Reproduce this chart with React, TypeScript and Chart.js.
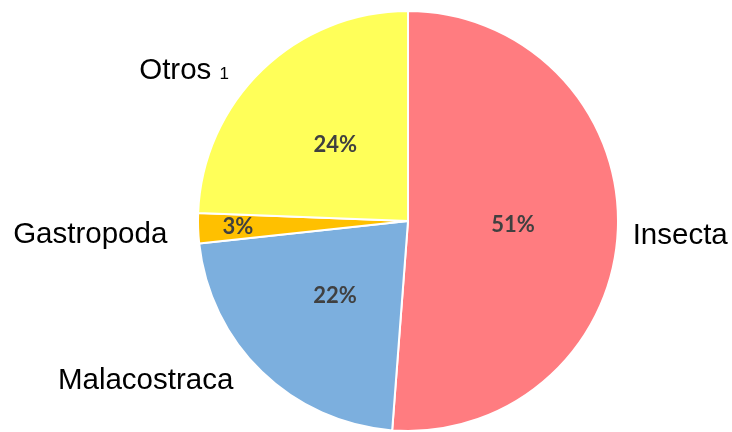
import React, { useEffect, useRef } from "react";
import { Chart, registerables } from "chart.js";

Chart.register(...registerables);

const categories = ["Insecta", "Malacostraca", "Gastropoda", "Otros"];
const labelSuffix = ["", "", "", "1"];
const values = [51.2, 22.1, 2.3, 24.4];
const percentLabels = ["51%", "22%", "3%", "24%"];
const colors = ["#FF7C80", "#7CAFDE", "#FFC000", "#FFFF59"];
// label placement (relative to slices)
const innerFactor = [0.5, 0.5, 0.81, 0.5];
const outerPad = [15, 25, 31, 25];
const outerNudgeDeg = [1, 3.9, -0.8, -5.7];

const labelPlugin = {
  id: "pieLabels",
  afterDatasetsDraw(chart: any) {
    const ctx = chart.ctx;
    const meta = chart.getDatasetMeta(0);
    meta.data.forEach((arc: any, i: number) => {
      const { x, y, startAngle, endAngle, outerRadius } = arc.getProps(
        ["x", "y", "startAngle", "endAngle", "outerRadius"],
        true
      );
      const mid = (startAngle + endAngle) / 2;
      // inner percentage
      const ri = outerRadius * innerFactor[i];
      const px = x + Math.cos(mid) * ri;
      const py = y + Math.sin(mid) * ri;
      ctx.save();
      ctx.fillStyle = "#404040";
      ctx.font = "bold 22px Lato";
      ctx.textAlign = "center";
      ctx.textBaseline = "middle";
      ctx.fillText(percentLabels[i], px, py);
      // outer label
      const a = mid + (outerNudgeDeg[i] * Math.PI) / 180;
      const ro = outerRadius + outerPad[i];
      const ox = x + Math.cos(a) * ro;
      const oy = y + Math.sin(a) * ro;
      ctx.fillStyle = "#000000";
      const bigFont = "29.5px 'Liberation Sans', Arial, sans-serif";
      const smallFont = "17px 'Liberation Sans', Arial, sans-serif";
      const main = labelSuffix[i] ? categories[i] + " " : categories[i];
      ctx.font = bigFont;
      const w1 = ctx.measureText(main).width;
      ctx.font = smallFont;
      const w2 = labelSuffix[i] ? ctx.measureText(labelSuffix[i]).width : 0;
      const totalW = w1 + w2;
      const left = Math.cos(a) < 0 ? ox - totalW : ox;
      ctx.textAlign = "left";
      ctx.font = bigFont;
      ctx.textBaseline = "alphabetic";
      const base = oy + 29.5 * 0.36;
      ctx.fillText(main, left, base);
      if (labelSuffix[i]) {
        ctx.font = smallFont;
        ctx.fillText(labelSuffix[i], left + w1, base);
      }
      ctx.restore();
    });
  },
};

export default function App() {
  const canvasRef = useRef<HTMLCanvasElement | null>(null);
  useEffect(() => {
    if (!canvasRef.current) return;
    const chart = new Chart(canvasRef.current, {
      type: "pie",
      data: {
        labels: categories,
        datasets: [
          {
            data: values,
            backgroundColor: colors,
            borderColor: "#FFFFFF",
            borderWidth: 2,
          },
        ],
      },
      options: {
        responsive: false,
        animation: false,
        layout: { padding: { left: 197, right: 113, top: 10, bottom: 0 } },
        plugins: {
          legend: { display: false },
          tooltip: { enabled: false },
        },
      },
      plugins: [labelPlugin],
    });
    return () => chart.destroy();
  }, []);
  return (
    <div style={{ position: "absolute", left: 0, top: 0, width: 732, height: 432, background: "#fff" }}>
      <canvas ref={canvasRef} width={732} height={432} style={{ display: "block" }} />
    </div>
  );
}
